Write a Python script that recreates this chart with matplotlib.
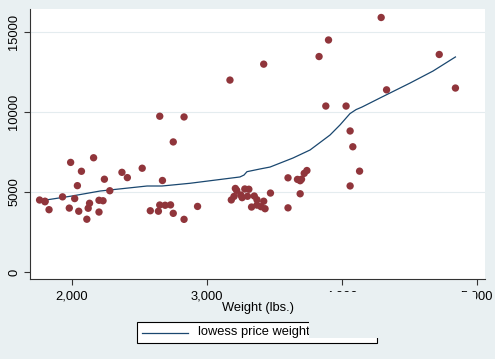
import matplotlib
matplotlib.use('Agg')
import matplotlib.pyplot as plt
from matplotlib.lines import Line2D
from matplotlib.patches import Rectangle

plt.rcParams['font.family'] = ['Liberation Sans', 'DejaVu Sans']

# auto data: weight (lbs.) and price
weight = [2930, 3350, 2640, 3250, 4080, 3670, 2230, 3280, 3880, 3400,
          4330, 3900, 4290, 2110, 3690, 3180, 3220, 2750, 3430, 2120,
          3600, 3600, 3740, 1800, 2650, 4840, 4720, 3830, 2580, 4060,
          3720, 3370, 4130, 2830, 4060, 3310, 3300, 3690, 3370, 2730,
          4030, 3260, 1800, 2200, 2520, 3330, 3700, 3470, 3210, 3200,
          3420, 2690, 2830, 2070, 2650, 2370, 2020, 2280, 2750, 2130,
          2240, 1760, 1980, 3420, 1830, 2050, 2410, 2200, 2670, 2160,
          2040, 1930, 1990, 3170]
price = [4099, 4749, 3799, 4816, 7827, 5788, 4453, 5189, 10372, 4082,
         11385, 14500, 15906, 3299, 5705, 4504, 5104, 3667, 3955, 3984,
         4010, 5886, 6342, 4389, 4187, 11497, 13594, 13466, 3829, 5379,
         6165, 4516, 6303, 3291, 8814, 5172, 4733, 4890, 4181, 4195,
         10371, 4647, 4425, 4482, 6486, 4060, 5798, 4934, 5222, 4723,
         4424, 4172, 9690, 6295, 9735, 6229, 4589, 5079, 8129, 4296,
         5799, 4499, 3995, 12990, 3895, 3798, 5899, 3748, 5719, 7140,
         5397, 4697, 6850, 11995]

# lowess curve
low_w = [1760, 2000, 2207, 2556, 2667, 2874, 3244, 3274, 3296, 3393,
         3467, 3637, 3763, 3911, 3985, 4059, 4104, 4148, 4281, 4504,
         4674, 4840]
low_p = [4440, 4750, 5060, 5375, 5375, 5545, 5940, 6060, 6270, 6440,
         6560, 7125, 7625, 8560, 9190, 9900, 10150, 10310, 10875, 11810,
         12560, 13440]

xticks = [2000, 3000, 4000, 5000]
xlabels = ['2,000', '3,000', '4,000', '5,000']
yticks = [0, 5000, 10000, 15000]
legend_labels = ['lowess price weight', 'Price']

bg = '#e9f0f2'
navy = '#1a476f'
maroon = '#90353b'
W, H = 495, 359

fig = plt.figure(figsize=(4.95, 3.59), dpi=100, facecolor=bg)
ax = fig.add_axes([30/W, 1 - 279/H, 455/W, 270/H])
ax.set_facecolor('white')

for y in yticks[1:]:
    ax.axhline(y, color='#e4ecef', lw=0.8, zorder=0)

ax.plot(low_w, low_p, color=navy, lw=0.9, zorder=2)
ax.scatter(weight, price, s=28, color=maroon, edgecolors='none', zorder=3)

ax.set_xlim(1689, 5059)
ax.set_ylim(-437, 16437)
ax.set_xticks(xticks)
ax.set_xticklabels(xlabels)
ax.set_yticks(yticks)
ax.set_yticklabels([str(v) for v in yticks], rotation=90, va='center')
ax.tick_params(labelsize=9.3, length=4, width=0.8, color='#333333', pad=3)
ax.tick_params(axis='x', pad=4)
ax.set_xlabel('Weight (lbs.)', fontsize=9.3, labelpad=0)

for s in ['top', 'right']:
    ax.spines[s].set_visible(False)
for s in ['left', 'bottom']:
    ax.spines[s].set_color('#333333')
    ax.spines[s].set_linewidth(0.8)

# legend box, laid out by hand like the Stata one
def fx(px):
    return px / W

def fy(py):
    return 1 - py / H

fig.patches.append(Rectangle((fx(137), fy(343)), fx(240), 21/H,
                             transform=fig.transFigure, facecolor='white',
                             edgecolor='black', lw=0.8, zorder=5))
fig.lines.append(Line2D([fx(142), fx(188)], [fy(332.5)] * 2,
                        transform=fig.transFigure, color=navy, lw=0.9,
                        zorder=6))
fig.text(fx(198), fy(332.5), legend_labels[0], fontsize=9.3,
         va='center', ha='left', zorder=6)
fig.lines.append(Line2D([fx(322)], [fy(332.5)], transform=fig.transFigure,
                        color=maroon, marker='o', ls='none', markersize=5,
                        zorder=6))
fig.text(fx(338), fy(332.5), legend_labels[1], fontsize=9.3,
         va='center', ha='left', zorder=6)

# patch of background over the lower middle, as in the reference
fig.patches.append(Rectangle((fx(309), fy(338)), fx(167), 46/H,
                             transform=fig.transFigure, facecolor=bg,
                             edgecolor='none', zorder=10))

fig.savefig('out.png', dpi=100, facecolor=bg)
